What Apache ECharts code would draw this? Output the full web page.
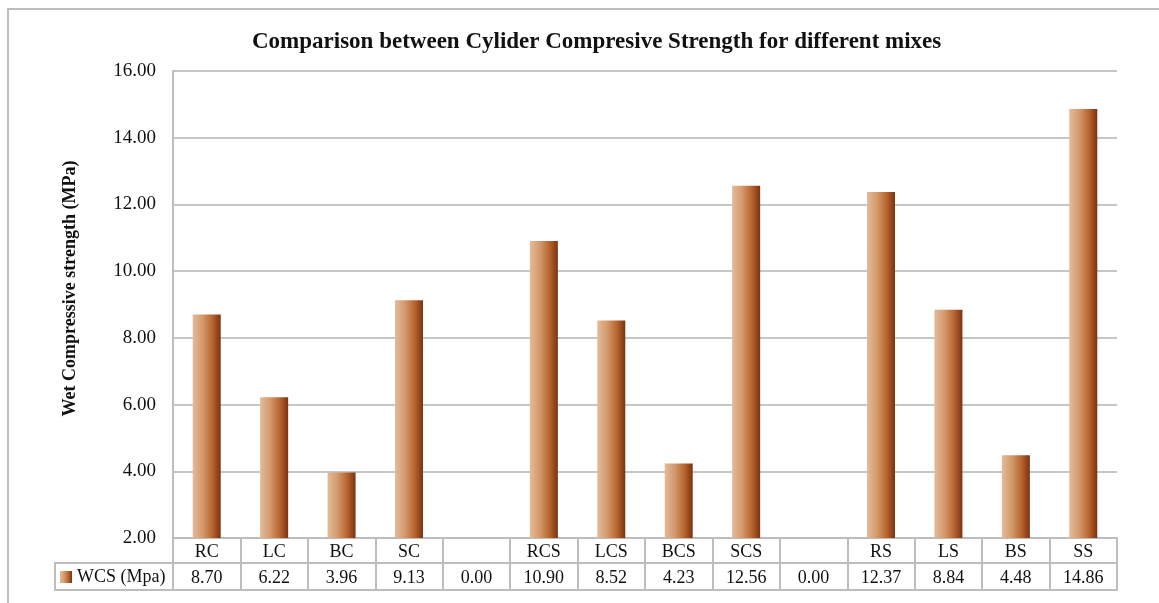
<!DOCTYPE html>
<html>
<head>
<meta charset="utf-8">
<title>Cylinder Compressive Strength</title>
<script src="https://cdn.jsdelivr.net/npm/echarts@6/dist/echarts.min.js"></script>
<style>
  html, body { margin: 0; padding: 0; background: #ffffff; }
  #chart { width: 1159px; height: 603px; }
</style>
</head>
<body>
<div id="chart"></div>
<script>
// Mix designations (blank columns separate the groups)
const categories = ['RC', 'LC', 'BC', 'SC', '', 'RCS', 'LCS', 'BCS', 'SCS', '', 'RS', 'LS', 'BS', 'SS'];
// Wet compressive strength, MPa
const wcsValues = [8.70, 6.22, 3.96, 9.13, 0.00, 10.90, 8.52, 4.23, 12.56, 0.00, 12.37, 8.84, 4.48, 14.86];
const seriesName = 'WCS (Mpa)';
const yTicks = { min: 2, max: 16, interval: 2 };

const serif = '"Liberation Serif", "DejaVu Serif", serif';
const lineGray = '#bdbdbd';

const barGradient = new echarts.graphic.LinearGradient(0, 0, 1, 0, [
  { offset: 0, color: '#e2bb9b' },
  { offset: 0.35, color: '#d49a6c' },
  { offset: 0.7, color: '#b7652f' },
  { offset: 1, color: '#7c320f' }
]);

const chart = echarts.init(document.getElementById('chart'), null, { renderer: 'canvas' });

// Extra bottom axes draw the horizontal rules of the data table
const hiddenAxisBase = {
  type: 'category',
  data: categories,
  position: 'bottom',
  axisLine: { show: true, lineStyle: { color: lineGray, width: 2 } },
  axisTick: { show: false },
  axisLabel: { show: false },
  splitLine: { show: false }
};

chart.setOption({
  animation: false,
  title: {
    text: 'Comparison between Cylider Compresive Strength for different mixes',
    left: 247,
    top: 26,
    textStyle: { fontFamily: serif, fontWeight: 'bold', fontSize: 23, color: '#111111' }
  },
  legend: {
    left: 60,
    top: 568,
    padding: 0,
    icon: 'rect',
    itemWidth: 12,
    itemHeight: 12,
    itemGap: 0,
    textStyle: { fontFamily: serif, fontSize: 18, color: '#111111' },
    data: [seriesName]
  },
  grid: { left: 173, right: 42, top: 71, bottom: 65, containLabel: false },
  xAxis: [
    {
      type: 'category',
      data: categories,
      position: 'bottom',
      axisLine: { show: true, lineStyle: { color: lineGray, width: 2 } },
      axisTick: { show: true, interval: 0, length: 52, lineStyle: { color: lineGray, width: 2 } },
      axisLabel: {
        interval: 0,
        margin: 1,
        formatter: function (value, index) {
          const name = categories[index] === '' ? ' ' : categories[index];
          return '{c|' + name + '}\n{v|' + wcsValues[index].toFixed(2) + '}';
        },
        rich: {
          c: { fontFamily: serif, fontSize: 18, color: '#111111', lineHeight: 26, align: 'center' },
          v: { fontFamily: serif, fontSize: 18, color: '#111111', lineHeight: 26, align: 'center' }
        }
      },
      splitLine: { show: false }
    },
    Object.assign({}, hiddenAxisBase, { offset: 25 }),
    Object.assign({}, hiddenAxisBase, { offset: 52 })
  ],
  yAxis: {
    type: 'value',
    min: yTicks.min,
    max: yTicks.max,
    interval: yTicks.interval,
    name: 'Wet Compressive strength (MPa)',
    nameLocation: 'middle',
    nameGap: 94,
    nameTextStyle: { fontFamily: serif, fontWeight: 'bold', fontSize: 18, color: '#111111', padding: [0, 0, 0, 32] },
    axisLine: { show: true, lineStyle: { color: lineGray, width: 2 } },
    axisTick: { show: false },
    axisLabel: {
      margin: 17,
      fontFamily: serif,
      fontSize: 19,
      color: '#111111',
      formatter: function (v) { return v.toFixed(2); }
    },
    splitLine: { show: true, lineStyle: { color: '#c6c6c6', width: 2 } }
  },
  series: [
    {
      name: seriesName,
      type: 'bar',
      xAxisIndex: 0,
      data: wcsValues,
      barWidth: 28,
      itemStyle: { color: barGradient }
    }
  ],
  graphic: [
    {
      type: 'rect',
      shape: { x: 8, y: 9, width: 1300, height: 800 },
      style: { fill: 'none', stroke: '#bdbdbd', lineWidth: 2 },
      silent: true,
      z: -1
    },
    {
      type: 'rect',
      shape: { x: 55, y: 563, width: 118, height: 27 },
      style: { fill: 'none', stroke: lineGray, lineWidth: 2 },
      silent: true
    }
  ]
});
</script>
</body>
</html>
